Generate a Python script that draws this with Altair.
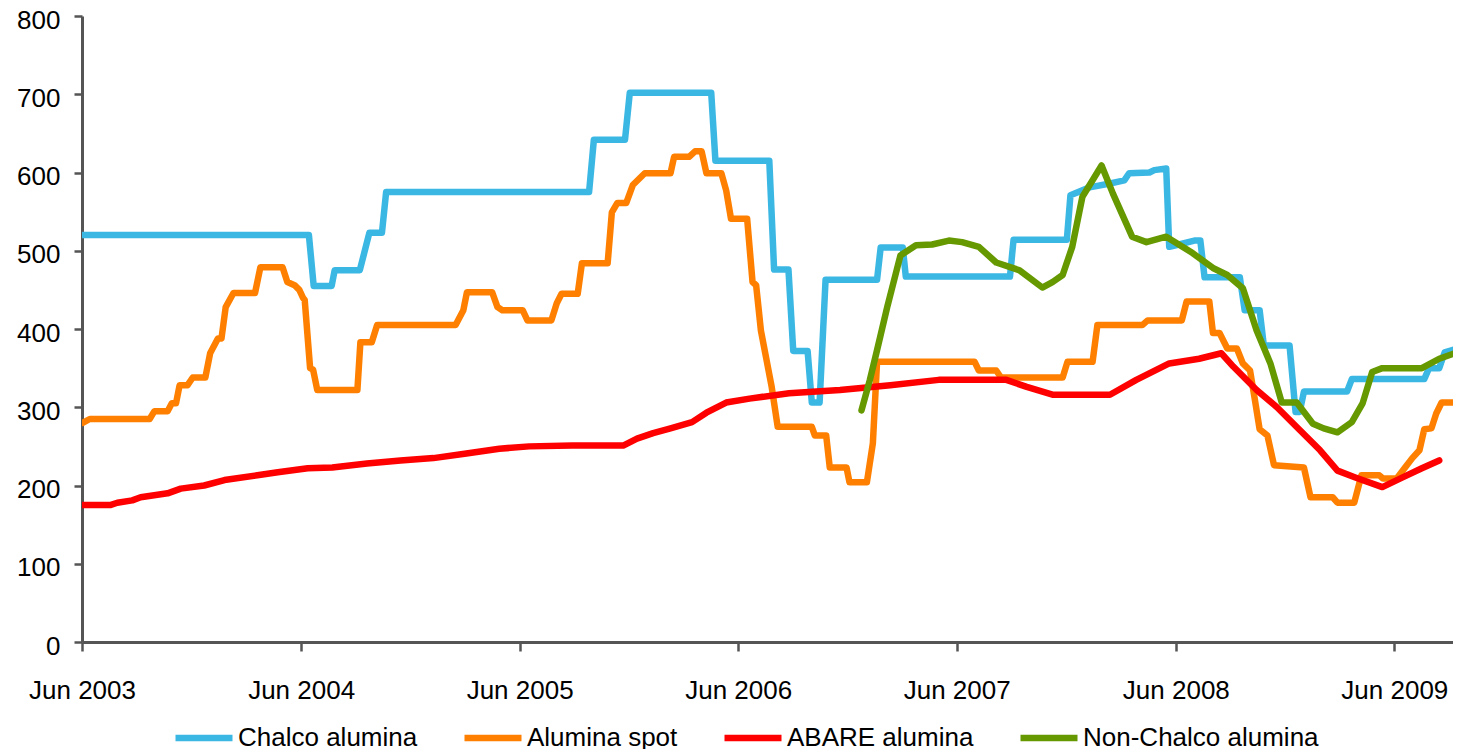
import altair as alt
import pandas as pd

# ---- data ----
chalco_dates = [
    "2003-06-01", "2004-06-14", "2004-06-22", "2004-07-22", "2004-07-27", "2004-09-07",
    "2004-09-23", "2004-10-14", "2004-10-21", "2005-09-25", "2005-10-03", "2005-11-24",
    "2005-12-02", "2006-04-17", "2006-04-24", "2006-07-23", "2006-07-31", "2006-08-24",
    "2006-09-01", "2006-09-25", "2006-10-02", "2006-10-15", "2006-10-25", "2007-01-19",
    "2007-01-25", "2007-03-03", "2007-03-08", "2007-08-29", "2007-09-04", "2007-12-02",
    "2007-12-08", "2008-01-09", "2008-02-12", "2008-03-07", "2008-03-15", "2008-04-18",
    "2008-04-26", "2008-05-16", "2008-05-21", "2008-06-01", "2008-07-02", "2008-07-12",
    "2008-07-19", "2008-09-16", "2008-09-24", "2008-10-19", "2008-10-26", "2008-12-08",
    "2008-12-18", "2008-12-25", "2009-01-01", "2009-03-14", "2009-03-22", "2009-07-21",
    "2009-07-29", "2009-08-15", "2009-08-24", "2009-09-10", "2009-09-20",
]
chalco_values = [
    520, 520, 455, 455, 475, 475,
    523, 523, 575, 575, 642, 642,
    702, 702, 615, 615, 476, 476,
    372, 372, 306, 306, 463, 463,
    504, 504, 467, 467, 514, 514,
    571, 581, 586, 590, 599, 600,
    603, 605, 505, 507, 513, 513,
    466, 466, 424, 424, 379, 379,
    294, 294, 320, 320, 336, 336,
    350, 350, 370, 374, 370,
]

spot_dates = [
    "2003-06-02", "2003-06-14", "2003-09-22", "2003-09-30", "2003-10-22", "2003-10-29",
    "2003-11-05", "2003-11-11", "2003-11-24", "2003-12-03", "2003-12-24", "2004-01-01",
    "2004-01-14", "2004-01-20", "2004-01-27", "2004-02-09", "2004-03-16", "2004-03-25",
    "2004-05-01", "2004-05-09", "2004-05-21", "2004-05-29", "2004-06-04", "2004-06-07",
    "2004-06-16", "2004-06-21", "2004-06-28", "2004-09-03", "2004-09-08", "2004-09-27",
    "2004-10-06", "2005-02-14", "2005-02-27", "2005-03-05", "2005-04-16", "2005-04-25",
    "2005-05-03", "2005-06-06", "2005-06-14", "2005-07-24", "2005-08-02", "2005-08-10",
    "2005-09-06", "2005-09-13", "2005-10-26", "2005-11-02", "2005-11-11", "2005-11-26",
    "2005-12-07", "2005-12-27", "2006-02-08", "2006-02-14", "2006-03-11", "2006-03-21",
    "2006-04-01", "2006-04-09", "2006-05-04", "2006-05-12", "2006-05-20", "2006-06-16",
    "2006-06-25", "2006-07-01", "2006-07-09", "2006-07-27", "2006-08-06", "2006-10-02",
    "2006-10-07", "2006-10-26", "2006-11-01", "2006-11-29", "2006-12-04", "2007-01-02",
    "2007-01-12", "2007-01-19", "2007-07-01", "2007-07-08", "2007-08-06", "2007-08-14",
    "2007-11-25", "2007-12-03", "2008-01-14", "2008-01-22", "2008-04-06", "2008-04-15",
    "2008-06-11", "2008-06-19", "2008-07-27", "2008-08-02", "2008-08-13", "2008-08-26",
    "2008-09-11", "2008-09-21", "2008-10-03", "2008-10-11", "2008-10-19", "2008-11-01",
    "2008-11-12", "2009-01-01", "2009-01-12", "2009-02-18", "2009-02-26", "2009-03-26",
    "2009-04-07", "2009-05-07", "2009-05-13", "2009-06-05", "2009-06-18", "2009-07-01",
    "2009-07-13", "2009-07-21", "2009-08-02", "2009-08-10", "2009-08-19", "2009-09-07",
    "2009-09-20",
]
spot_values = [
    280, 285, 285, 295, 295, 305,
    305, 328, 328, 338, 338, 369,
    388, 388, 428, 446, 446, 479,
    479, 460, 456, 450, 440, 437,
    350, 348, 322, 322, 383, 383,
    405, 405, 424, 447, 447, 428,
    424, 424, 411, 411, 433, 445,
    445, 484, 484, 549, 561, 561,
    584, 599, 599, 620, 620, 627,
    627, 599, 599, 577, 541, 541,
    460, 456, 398, 326, 275, 275,
    264, 264, 223, 223, 204, 204,
    254, 358, 358, 347, 347, 338,
    338, 358, 358, 405, 405, 411,
    411, 435, 435, 395, 395, 375,
    375, 356, 347, 310, 272, 264,
    226, 223, 185, 185, 178, 178,
    213, 213, 209, 209, 222, 235,
    245, 272, 273, 292, 306, 306,
    309,
]

abare_dates = [
    "2003-06-02", "2003-07-18", "2003-07-30", "2003-08-24", "2003-09-07", "2003-10-22",
    "2003-11-13", "2003-12-22", "2004-01-25", "2004-03-20", "2004-04-23", "2004-06-12",
    "2004-07-23", "2004-09-19", "2004-11-14", "2005-01-08", "2005-03-04", "2005-04-28",
    "2005-06-17", "2005-08-28", "2005-11-21", "2005-12-14", "2006-01-10", "2006-02-08",
    "2006-03-16", "2006-04-09", "2006-05-12", "2006-06-20", "2006-08-25", "2006-11-18",
    "2007-02-10", "2007-05-02", "2007-08-23", "2007-09-26", "2007-11-08", "2008-02-12",
    "2008-03-27", "2008-05-21", "2008-07-10", "2008-08-16", "2008-09-05", "2008-10-14",
    "2008-11-17", "2008-12-25", "2009-01-28", "2009-02-26", "2009-03-29", "2009-05-12",
    "2009-06-14", "2009-07-17", "2009-08-15",
]
abare_values = [
    175, 175, 178, 181, 185, 190,
    196, 200, 207, 213, 217, 222,
    223, 228, 232, 235, 241, 247,
    250, 251, 251, 260, 267, 273,
    281, 293, 306, 311, 318, 322,
    328, 335, 335, 326, 316, 316,
    335, 356, 362, 369, 352, 322,
    300, 271, 245, 219, 210, 198,
    210, 222, 232,
]

nonchalco_dates = [
    "2006-12-24", "2007-01-07", "2007-01-19", "2007-02-05", "2007-02-27", "2007-03-25",
    "2007-04-21", "2007-05-19", "2007-06-10", "2007-07-08", "2007-08-06", "2007-09-14",
    "2007-10-22", "2007-11-08", "2007-11-25", "2007-12-11", "2007-12-28", "2008-01-14",
    "2008-01-29", "2008-02-17", "2008-03-20", "2008-04-13", "2008-05-16", "2008-06-29",
    "2008-08-02", "2008-08-26", "2008-09-21", "2008-10-14", "2008-11-06", "2008-11-25",
    "2008-12-20", "2009-01-16", "2009-02-03", "2009-02-26", "2009-03-22", "2009-04-09",
    "2009-04-25", "2009-05-12", "2009-07-17", "2009-08-15", "2009-09-10",
]
nonchalco_values = [
    296, 335, 373, 428, 494, 507,
    508, 513, 511, 505, 485, 475,
    453, 460, 469, 505, 569, 590,
    609, 573, 518, 511, 518, 497,
    478, 469, 452, 398, 356, 306,
    306, 279, 273, 268, 281, 305,
    345, 350, 350, 362, 369,
]

series_names = ["Chalco alumina", "Alumina spot", "ABARE alumina", "Non-Chalco alumina"]
series_colors = ["#3BB7E4", "#FF8000", "#FF0000", "#669900"]
tick_dates = ["2003-06-01", "2004-06-01", "2005-06-01", "2006-06-01",
              "2007-06-01", "2008-06-01", "2009-06-01"]

frames = []
for name, d, v in zip(series_names,
                      [chalco_dates, spot_dates, abare_dates, nonchalco_dates],
                      [chalco_values, spot_values, abare_values, nonchalco_values]):
    frames.append(pd.DataFrame({"date": d, "value": v, "series": name}))
df = pd.concat(frames, ignore_index=True)


def dt(s):
    y, m, d = (int(p) for p in s.split("-"))
    return alt.DateTime(year=y, month=m, date=d, utc=True)


FONT = "Liberation Sans"

chart = alt.Chart(df).mark_line(
    strokeWidth=6.5, strokeJoin="round", strokeCap="round", clip=True
).encode(
    x=alt.X(
        "date:T",
        scale=alt.Scale(type="utc", domain=[dt("2003-06-01"), dt("2009-09-07")], nice=False),
        axis=alt.Axis(
            title=None, values=[dt(s) for s in tick_dates],
            labelExpr="utcFormat(datum.value, '%b %Y')",
            grid=False, labelFlush=False, labelOverlap=False,
            labelAlign="center", labelPadding=26, tickSize=9,
            labelFont=FONT, labelFontSize=26, labelColor="#000000",
            domainColor="#555555", domainWidth=3, tickColor="#555555", tickWidth=2.5,
        ),
    ),
    y=alt.Y(
        "value:Q",
        scale=alt.Scale(domain=[0, 800], nice=False),
        axis=alt.Axis(
            title=None, values=list(range(0, 801, 100)), grid=False,
            labelPadding=14, tickSize=8, labelOffset=4,
            labelFont=FONT, labelFontSize=26, labelColor="#000000",
            domainColor="#555555", domainWidth=3, tickColor="#555555", tickWidth=2.5,
        ),
    ),
    color=alt.Color(
        "series:N",
        scale=alt.Scale(domain=series_names, range=series_colors),
        sort=series_names,
        legend=alt.Legend(
            title=None, orient="none", legendX=90, legendY=690, direction="horizontal",
            symbolType="stroke", symbolStrokeWidth=6.5, symbolSize=3249,
            labelFontSize=26, labelFont=FONT, labelColor="#000000", labelOffset=2,
            columnPadding=33, labelLimit=400, padding=0,
        ),
    ),
    order=alt.Order("date:T"),
).properties(
    width=1371,
    height=626,
    autosize=alt.AutoSizeParams(type="none"),
    padding={"left": 74, "top": 8, "right": 0, "bottom": 112},
).configure_view(
    stroke=None
)

chart.save("out.html", embed_options={"renderer": "svg", "actions": False})
